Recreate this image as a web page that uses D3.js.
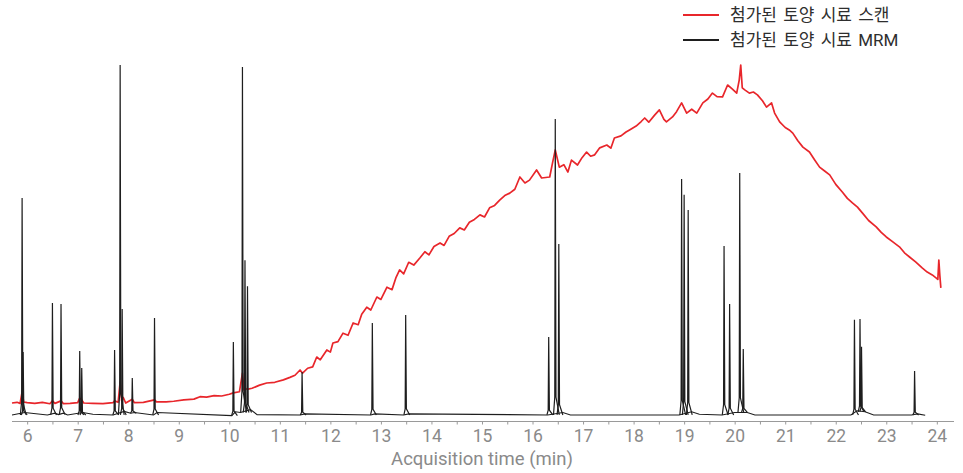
<!DOCTYPE html>
<html>
<head>
<meta charset="utf-8">
<script src="https://cdn.jsdelivr.net/npm/d3@7"></script>
<style>
  body { margin: 0; background: #fff; }
  svg { display: block; }
</style>
</head>
<body>
<svg id="chart"></svg>
<script>
// chromatogram: spiked soil scan (red) vs MRM (black)

const width = 963, height = 473;

const legendLabels = ["첨가된 토양 시료 스캔", "첨가된 토양 시료 MRM"];
const seriesColors = ["#e8262b", "#1e1e1e"];

// scan trace, relative abundance (%) vs time (min)
const scanTime = [
  5.70, 5.80, 5.86, 5.90, 5.93, 6.00, 6.15, 6.30, 6.45, 6.50, 6.55, 6.67, 6.72, 6.85, 7.00,
  7.04, 7.08, 7.12, 7.30, 7.50, 7.70, 7.73, 7.80, 7.84, 7.87, 7.90, 7.95, 8.08, 8.12, 8.30,
  8.52, 8.56, 8.75, 8.90, 9.10, 9.30, 9.42, 9.55, 9.70, 9.85, 10.00, 10.08, 10.20, 10.26, 10.29,
  10.31, 10.35, 10.45, 10.60, 10.74, 10.90, 11.07, 11.20, 11.30, 11.40, 11.45, 11.55, 11.65, 11.73, 11.80,
  11.93, 12.00, 12.05, 12.15, 12.25, 12.35, 12.45, 12.55, 12.62, 12.72, 12.80, 12.92, 13.00, 13.12, 13.22,
  13.30, 13.37, 13.45, 13.55, 13.65, 13.77, 13.87, 13.95, 14.05, 14.17, 14.25, 14.35, 14.45, 14.56, 14.65,
  14.75, 14.85, 14.96, 15.05, 15.15, 15.25, 15.35, 15.45, 15.55, 15.65, 15.75, 15.85, 15.94, 16.08, 16.18,
  16.34, 16.40, 16.45, 16.53, 16.62, 16.70, 16.77, 16.89, 16.98, 17.07, 17.15, 17.23, 17.33, 17.47, 17.55,
  17.62, 17.75, 17.85, 17.92, 18.05, 18.15, 18.22, 18.30, 18.42, 18.51, 18.60, 18.65, 18.77, 18.85, 18.95,
  19.05, 19.15, 19.25, 19.37, 19.47, 19.56, 19.65, 19.76, 19.86, 19.95, 20.04, 20.09, 20.12, 20.15, 20.20,
  20.29, 20.37, 20.45, 20.55, 20.63, 20.73, 20.79, 20.89, 21.00, 21.08, 21.15, 21.25, 21.35, 21.48, 21.58,
  21.68, 21.78, 21.88, 22.00, 22.13, 22.23, 22.33, 22.43, 22.53, 22.65, 22.80, 22.90, 23.00, 23.13, 23.26,
  23.36, 23.46, 23.58, 23.71, 23.81, 23.91, 23.99, 24.02, 24.04, 24.06, 24.08
];
const scanValue = [
  3.7, 3.9, 3.6, 6.9, 4.0, 3.8, 3.6, 3.9, 3.5, 4.3, 3.6, 4.3, 3.5, 3.6, 3.8,
  5.1, 4.6, 3.7, 3.6, 3.5, 3.8, 4.3, 3.9, 9.7, 4.4, 5.3, 3.7, 4.8, 3.8, 3.9,
  4.6, 4.0, 4.0, 4.2, 4.6, 4.8, 5.5, 5.4, 5.8, 5.7, 6.2, 6.6, 6.9, 12.2, 7.4,
  8.0, 7.6, 7.9, 8.8, 9.4, 9.6, 10.3, 11.0, 11.6, 13.1, 12.2, 13.6, 14.0, 16.8, 16.0,
  18.8, 18.2, 20.8, 21.2, 23.6, 23.0, 26.5, 26.0, 29.0, 31.0, 30.2, 33.9, 33.2, 36.7, 36.0,
  39.5, 41.6, 40.5, 43.8, 43.0, 45.0, 46.8, 45.9, 48.3, 49.3, 48.6, 51.2, 52.0, 53.6, 53.0,
  55.2, 56.0, 57.3, 56.7, 59.3, 60.0, 61.5, 62.8, 63.5, 64.6, 68.1, 66.4, 67.2, 70.1, 67.8,
  68.1, 72.4, 75.8, 70.9, 71.6, 69.5, 72.9, 71.5, 73.6, 75.2, 74.0, 74.4, 76.4, 77.2, 76.3,
  79.2, 79.8, 80.9, 81.5, 82.6, 83.9, 84.9, 83.7, 85.8, 87.2, 84.5, 83.8, 85.2, 86.7, 89.2,
  86.3, 87.4, 86.3, 89.2, 90.3, 92.0, 91.0, 90.9, 94.3, 93.2, 92.0, 95.7, 100.0, 93.5, 92.9,
  92.0, 92.3, 91.5, 89.8, 88.0, 89.2, 86.3, 83.8, 82.2, 81.5, 80.6, 78.4, 76.6, 75.2, 73.0,
  70.9, 69.8, 68.7, 66.0, 63.8, 62.0, 60.7, 59.5, 57.8, 55.7, 53.9, 52.3, 51.0, 49.6, 48.2,
  46.5, 45.3, 43.9, 42.2, 41.0, 40.2, 39.3, 38.9, 44.4, 40.0, 36.5
];

// MRM baseline (time, abundance)
const mrmBaseTime = [
  5.70, 5.95, 6.40, 6.55, 6.62, 6.72, 6.80, 7.10, 7.30, 7.70, 7.92, 8.05, 8.12, 8.50, 8.57,
  10.05, 10.12, 10.22, 10.42, 10.55, 11.40, 11.50, 12.80, 12.88, 13.45, 13.55, 16.30, 16.60, 16.75, 18.90,
  19.15, 19.30, 19.75, 20.00, 20.25, 20.40, 22.30, 22.42, 22.58, 22.75, 23.50, 23.62, 23.77
];
const mrmBaseValue = [
  0.3, 1.0, 0.3, 0.8, 0.4, 0.8, 0.3, 1.0, 0.5, 0.3, 1.3, 0.8, 1.0, 0.3, 1.0,
  0.1, 1.2, 1.0, 1.8, 0.4, 0.3, 0.6, 0.3, 0.6, 0.3, 0.6, 0.3, 1.0, 0.3, 0.3,
  1.2, 0.5, 0.3, 1.0, 1.0, 0.3, 0.3, 1.5, 1.2, 0.3, 0.3, 0.6, 0.2
];

// MRM peaks: retention time and apex height
const peakTime = [
  5.90, 5.92, 6.50, 6.67, 7.04, 7.08, 7.73, 7.84, 7.88, 8.08, 8.52, 10.08, 10.26, 10.31, 10.36,
  11.44, 12.83, 13.49, 16.32, 16.45, 16.52, 18.95, 19.00, 19.08, 19.79, 19.90, 20.10, 20.17, 22.37, 22.48,
  22.51, 23.56
];
const peakHeight = [
  62.1, 18.2, 32.2, 31.9, 18.5, 13.7, 18.8, 100, 30.5, 10.8, 27.9, 21.1, 99.4, 44.4, 37.0,
  12.5, 26.5, 28.8, 22.5, 84.6, 49.0, 67.5, 63.0, 58.7, 48.4, 31.9, 69.2, 19.1, 27.4, 27.6,
  19.7, 12.8
];

const xTicks = d3.range(6, 24.01, 0.5);

const svg = d3.select("#chart")
  .attr("width", width)
  .attr("height", height);

const x = d3.scaleLinear().domain([5.70, 24.34]).range([12, 954]);
const y = d3.scaleLinear().domain([0, 100]).range([416, 65]);

const line = d3.line()
  .x(d => x(d[0]))
  .y(d => y(d[1]));

// baseline value at a given time (for anchoring peak feet)
const baseAt = function(t) {
  const pts = mrmBaseTime.map((tt, i) => [tt, mrmBaseValue[i]]);
  const i = d3.bisector(d => d[0]).left(pts, t);
  if (i <= 0) return pts[0][1];
  if (i >= pts.length) return pts[pts.length - 1][1];
  return Math.min(pts[i - 1][1], pts[i][1]);
};

// scan trace
svg.append("path")
  .datum(scanTime.map((t, i) => [t, scanValue[i]]))
  .attr("fill", "none")
  .attr("stroke", seriesColors[0])
  .attr("stroke-width", 1.7)
  .attr("stroke-linejoin", "round")
  .attr("d", line);

// MRM baseline
svg.append("path")
  .datum(mrmBaseTime.map((t, i) => [t, mrmBaseValue[i]]))
  .attr("fill", "none")
  .attr("stroke", seriesColors[1])
  .attr("stroke-width", 1.1)
  .attr("d", line);

// MRM peaks, each a narrow spike on the baseline
svg.selectAll("path.peak")
  .data(peakTime.map((t, i) => ({t: t, h: peakHeight[i], b: baseAt(t)})))
  .enter()
  .append("path")
  .attr("class", "peak")
  .attr("fill", "none")
  .attr("stroke", seriesColors[1])
  .attr("stroke-width", 1.2)
  .attr("stroke-linejoin", "miter")
  .attr("d", d => line([
    [d.t - 0.035, d.b],
    [d.t - 0.01, d.b + d.h * 0.06],
    [d.t, d.h],
    [d.t + 0.014, d.b + d.h * 0.06],
    [d.t + 0.08, d.b]
  ]));

// x axis
const axis = svg.append("g")
  .attr("transform", "translate(0,421.5)")
  .call(d3.axisBottom(x)
    .tickValues(xTicks)
    .tickSize(3)
    .tickPadding(5)
    .tickFormat(d => Number.isInteger(d) ? d : ""));

axis.select(".domain").attr("stroke", "#9a9a9a").attr("d", `M12,0H954`);
axis.selectAll(".tick line").attr("stroke", "#9a9a9a");
axis.selectAll(".tick text")
  .attr("fill", "#8a8a8a")
  .attr("font-family", "Roboto, sans-serif")
  .attr("font-size", 17.5);

svg.append("text")
  .attr("x", 482)
  .attr("y", 465)
  .attr("text-anchor", "middle")
  .attr("fill", "#8a8a8a")
  .attr("font-family", "Roboto, sans-serif")
  .attr("font-size", 18.5)
  .text("Acquisition time (min)");

// legend
const legend = svg.append("g");
legendLabels.forEach(function(label, i) {
  const ly = 15 + i * 25;
  legend.append("line")
    .attr("x1", 683).attr("x2", 719)
    .attr("y1", ly).attr("y2", ly)
    .attr("stroke", seriesColors[i])
    .attr("stroke-width", 2);
  legend.append("text")
    .attr("x", 730)
    .attr("y", ly + 6)
    .attr("fill", "#2e2e2e")
    .attr("font-family", "Roboto, 'Noto Sans CJK KR', sans-serif")
    .attr("font-size", 17)
    .attr("word-spacing", 2)
    .text(label);
});
</script>
</body>
</html>
